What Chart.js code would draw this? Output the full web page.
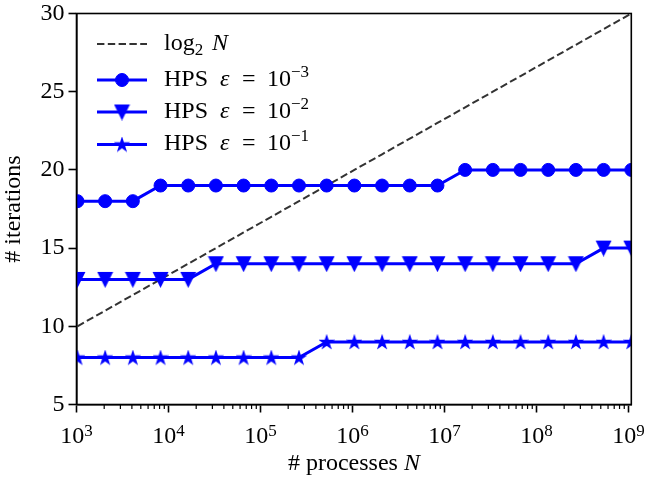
<!DOCTYPE html>
<html>
<head>
<meta charset="utf-8">
<script src="https://cdn.jsdelivr.net/npm/chart.js@4.4.1/dist/chart.umd.min.js"></script>
<style>
html, body { margin: 0; padding: 0; background: #fff; }
</style>
</head>
<body>
<canvas id="grafica" width="646" height="479"></canvas>
<script>
// datos
var procesos = [1024, 2048, 4096, 8192, 16384, 32768, 65536, 131072, 262144, 524288, 1048576,
    2097152, 4194304, 8388608, 16777216, 33554432, 67108864, 134217728, 268435456, 536870912, 1073741824];
var log2N = [10, 11, 12, 13, 14, 15, 16, 17, 18, 19, 20, 21, 22, 23, 24, 25, 26, 27, 28, 29, 30];
var hps3 = [18, 18, 18, 19, 19, 19, 19, 19, 19, 19, 19, 19, 19, 19, 20, 20, 20, 20, 20, 20, 20];
var hps2 = [13, 13, 13, 13, 13, 14, 14, 14, 14, 14, 14, 14, 14, 14, 14, 14, 14, 14, 14, 15, 15];
var hps1 = [8, 8, 8, 8, 8, 8, 8, 8, 8, 9, 9, 9, 9, 9, 9, 9, 9, 9, 9, 9, 9];
var exponentesX = [3, 4, 5, 6, 7, 8, 9];
var ticksY = [5, 10, 15, 20, 25, 30];
var exponentesLeyenda = ['\u22123', '\u22122', '\u22121'];

var azul = '#0000ff';
var fuente = 'Liberation Serif';
var tamTexto = 24;
var tamIndice = 17;

function puntos(valores) {
    let arr = [];
    for (let i = 0; i < procesos.length; i++) {
        arr.push({x: procesos[i], y: valores[i]});
    }
    return arr;
}

function marcador(tipo, tam) {
    let c = document.createElement('canvas');
    c.width = tam + 4;
    c.height = tam + 4;
    let g = c.getContext('2d');
    let m = c.width / 2;
    g.fillStyle = azul;
    g.strokeStyle = azul;
    g.lineWidth = 1.5;
    g.beginPath();
    if (tipo == 'v') {
        g.moveTo(m - tam / 2, m - tam / 2);
        g.lineTo(m + tam / 2, m - tam / 2);
        g.lineTo(m, m + tam / 2);
    } else {
        let R = tam / 2;
        for (let i = 0; i < 10; i++) {
            let r = (i % 2 == 0) ? R : R * 0.382;
            let ang = -Math.PI / 2 + i * Math.PI / 5;
            let px = m + r * Math.cos(ang);
            let py = m + 0.5 + r * Math.sin(ang);
            if (i == 0) g.moveTo(px, py); else g.lineTo(px, py);
        }
    }
    g.closePath();
    g.fill();
    g.stroke();
    return c;
}

var trianguloAbajo = marcador('v', 13.5);
var estrella = marcador('*', 12.5);

// partes: [texto, tamaño, italica, desplazamiento vertical, x relativa o null]
function textoPartes(ctx, x, yBase, partes) {
    let x0 = x;
    for (let i = 0; i < partes.length; i++) {
        let p = partes[i];
        if (p[4] != null) x = x0 + p[4];
        ctx.font = (p[2] ? 'italic ' : '') + p[1] + 'px "' + fuente + '"';
        ctx.fillText(p[0], x, yBase + p[3]);
        x += ctx.measureText(p[0]).width;
    }
    return x;
}

function anchoPartes(ctx, partes) {
    let w = 0;
    for (let i = 0; i < partes.length; i++) {
        let p = partes[i];
        ctx.font = (p[2] ? 'italic ' : '') + p[1] + 'px "' + fuente + '"';
        w += ctx.measureText(p[0]).width;
    }
    return w;
}

var marcoYTextos = {
    id: 'marcoYTextos',
    afterDatasetsDraw: function (chart) {
        let ctx = chart.ctx;
        let a = chart.chartArea;
        let sx = chart.scales.x;
        ctx.save();

        // ticks menores del eje x
        ctx.strokeStyle = '#000';
        ctx.lineWidth = 1.2;
        for (let e = 3; e < 9; e++) {
            for (let m = 2; m <= 9; m++) {
                let px = sx.getPixelForValue(m * Math.pow(10, e));
                ctx.beginPath();
                ctx.moveTo(px, a.bottom);
                ctx.lineTo(px, a.bottom + 4.5);
                ctx.stroke();
            }
        }

        // marco
        ctx.lineWidth = 1.6;
        ctx.strokeRect(a.left, a.top, a.right - a.left, a.bottom - a.top);

        // etiquetas 10^k
        ctx.fillStyle = '#000';
        ctx.textAlign = 'left';
        ctx.textBaseline = 'alphabetic';
        for (let i = 0; i < exponentesX.length; i++) {
            let px = sx.getPixelForValue(Math.pow(10, exponentesX[i]));
            let partes = [['10', tamTexto, false, 0, null], [String(exponentesX[i]), tamIndice, false, -7, null]];
            let w = anchoPartes(ctx, partes);
            textoPartes(ctx, px - w / 2, 443, partes);
        }

        // titulo eje x
        let titulo = [['# processes ', tamTexto, false, 0, null], ['N', tamTexto, true, 0, null]];
        let wt = anchoPartes(ctx, titulo);
        textoPartes(ctx, (a.left + a.right) / 2 - wt / 2, 470, titulo);

        // leyenda
        let filas = [44, 80, 112, 144.5];
        let x0 = 97, x1 = 147, xm = 122, xt = 164;
        ctx.lineCap = 'butt';
        ctx.strokeStyle = '#333';
        ctx.lineWidth = 2;
        ctx.setLineDash([7.4, 3.4]);
        ctx.beginPath();
        ctx.moveTo(x0, filas[0]);
        ctx.lineTo(x1, filas[0]);
        ctx.stroke();
        ctx.setLineDash([]);
        textoPartes(ctx, xt, filas[0] + 5.5, [['log', tamTexto, false, 0, 0], ['2', tamIndice, false, 5, null],
            ['N', tamTexto, true, 0, 48]]);

        let imgs = [null, trianguloAbajo, estrella];
        for (let i = 0; i < 3; i++) {
            let y = filas[i + 1];
            ctx.strokeStyle = azul;
            ctx.fillStyle = azul;
            ctx.lineWidth = 3;
            ctx.beginPath();
            ctx.moveTo(x0, y);
            ctx.lineTo(x1, y);
            ctx.stroke();
            if (imgs[i] == null) {
                ctx.lineWidth = 1;
                ctx.beginPath();
                ctx.arc(xm, y, 6.5, 0, Math.PI * 2);
                ctx.fill();
                ctx.stroke();
            } else {
                ctx.drawImage(imgs[i], xm - imgs[i].width / 2, y - imgs[i].height / 2);
            }
            ctx.fillStyle = '#000';
            textoPartes(ctx, xt, y + 5.5, [['HPS', tamTexto, false, 0, 0], ['\u03b5', tamTexto, true, 0, 56],
                ['=', tamTexto, false, 0, 78], ['10', tamTexto, false, 0, 103],
                [exponentesLeyenda[i], tamIndice, false, -9, null]]);
        }
        ctx.restore();
    }
};

var grafica = new Chart(document.getElementById('grafica'), {
    type: 'line',
    data: {
        datasets: [
            {
                label: 'log2 N', data: puntos(log2N), borderColor: '#333', borderDash: [7.4, 3.4],
                borderWidth: 2, pointRadius: 0, order: 1, clip: 0
            },
            {
                label: 'HPS eps=1e-3', data: puntos(hps3), borderColor: azul, backgroundColor: azul,
                borderWidth: 3, pointStyle: 'circle', pointRadius: 6.5, pointBorderWidth: 1, order: 0, clip: 0
            },
            {
                label: 'HPS eps=1e-2', data: puntos(hps2), borderColor: azul, backgroundColor: azul,
                borderWidth: 3, pointStyle: trianguloAbajo, pointRadius: 7, order: 0, clip: 0
            },
            {
                label: 'HPS eps=1e-1', data: puntos(hps1), borderColor: azul, backgroundColor: azul,
                borderWidth: 3, pointStyle: estrella, pointRadius: 7, order: 0, clip: 0
            }
        ]
    },
    options: {
        responsive: false,
        animation: false,
        devicePixelRatio: 1,
        layout: {padding: {left: 0, top: 13.5, right: 14.7, bottom: 0}},
        elements: {line: {tension: 0}},
        plugins: {legend: {display: false}, tooltip: {enabled: false}},
        scales: {
            x: {
                type: 'logarithmic',
                min: 1000,
                max: 1073741824,
                afterBuildTicks: function (s) {
                    s.ticks = exponentesX.map(function (e) { return {value: Math.pow(10, e)}; });
                },
                afterFit: function (s) {
                    s.height = 74.5;
                    s.paddingLeft = 0;
                    s.paddingRight = 0;
                },
                ticks: {callback: function () { return ''; }, autoSkip: false, maxRotation: 0},
                grid: {drawOnChartArea: false, tickLength: 8, tickWidth: 1.6, tickColor: '#000'},
                border: {color: '#000', width: 1.6}
            },
            y: {
                min: 5,
                max: 30,
                afterBuildTicks: function (s) {
                    s.ticks = ticksY.map(function (v) { return {value: v}; });
                },
                afterFit: function (s) {
                    s.width = 76.5;
                    s.paddingTop = 0;
                    s.paddingBottom = 0;
                },
                ticks: {color: '#000', font: {family: fuente, size: tamTexto}, padding: 4},
                grid: {drawOnChartArea: false, tickLength: 8, tickWidth: 1.6, tickColor: '#000'},
                border: {color: '#000', width: 1.6},
                title: {
                    display: true, text: '# iterations', color: '#000',
                    font: {family: fuente, size: tamTexto}, padding: {top: -1, bottom: 0}
                }
            }
        }
    },
    plugins: [marcoYTextos]
});
</script>
</body>
</html>
